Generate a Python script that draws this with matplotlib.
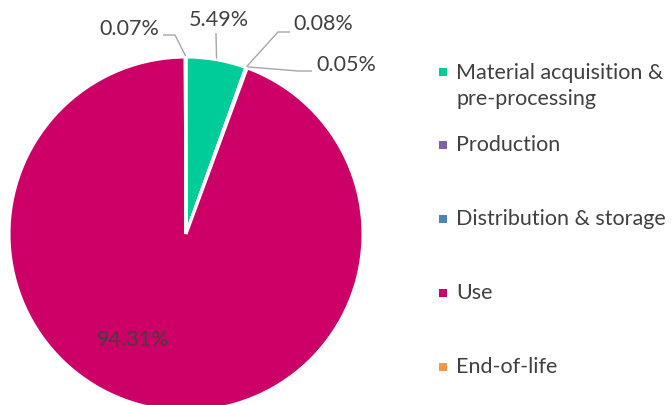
import numpy as np
import matplotlib
matplotlib.use('Agg')
import matplotlib.pyplot as plt

# stage data (clockwise from 12 o'clock)
stages = ["Material acquisition &\npre-processing", "Production",
          "Distribution & storage", "Use", "End-of-life"]
shares = [5.49, 0.08, 0.05, 94.31, 0.07]
colors = ["#00CC99", "#8064A2", "#4F81BD", "#CC0066", "#F79646"]
pct_text = ["5.49%", "0.08%", "0.05%", "94.31%", "0.07%"]

plt.rcParams['font.family'] = ['Lato', 'DejaVu Sans']
txt_col = "#404040"
line_col = "#A6A6A6"
fs = 15.5

fig = plt.figure(figsize=(6.72, 4.05), dpi=100)
ax = fig.add_axes([0, 0, 1, 1])

cx, cy, R = 186, 405 - 234, 177
wedges, _ = ax.pie(shares, colors=colors, startangle=90, counterclock=False,
                   center=(cx, cy), radius=R, frame=True,
                   wedgeprops=dict(edgecolor='white', linewidth=2.2))
ax.set_xlim(0, 672)
ax.set_ylim(0, 405)
ax.set_aspect('equal')
ax.axis('off')

# anchor point of each slice on the rim
cum = np.cumsum([0] + shares[:-1])
mid = [(c + s / 2) / 100 * 2 * np.pi for c, s in zip(cum, shares)]
def rim(i, r=R + 1):
    return cx + r * np.sin(mid[i]), cy + r * np.cos(mid[i])

def Y(y):  # top-origin pixel -> data
    return 405 - y

# leader elbows & label spots (top-origin pixels)
leaders = {
    0: ([(216, 33)], (219, 20)),
    1: ([(278, 32), (290, 32)], (323, 24)),
    2: ([(298, 71), (312, 71)], (346, 65)),
    4: ([(175, 35), (163, 35)], (129, 29)),
}
for i, (pts, lab) in leaders.items():
    x0, y0 = rim(i)
    xs = [x0] + [p[0] for p in pts]
    ys = [y0] + [Y(p[1]) for p in pts]
    ax.plot(xs, ys, color=line_col, lw=1.0, solid_capstyle='butt')
    ax.text(lab[0], Y(lab[1]), pct_text[i], ha='center', va='center',
            fontsize=fs, color=txt_col)

ax.text(133, Y(340), pct_text[3], ha='center', va='center',
        fontsize=fs, color=txt_col)

# legend
leg_y = [86, 145, 219, 293, 367]
for i, lab in enumerate(stages):
    mk_y = 72 if i == 0 else leg_y[i]
    ax.scatter([443], [Y(mk_y)], marker='s', s=38, color=colors[i], linewidths=0)
    ax.text(456, Y(leg_y[i]), lab, ha='left', va='center', fontsize=fs,
            color=txt_col, linespacing=1.35)

fig.savefig('out.png', dpi=100)
